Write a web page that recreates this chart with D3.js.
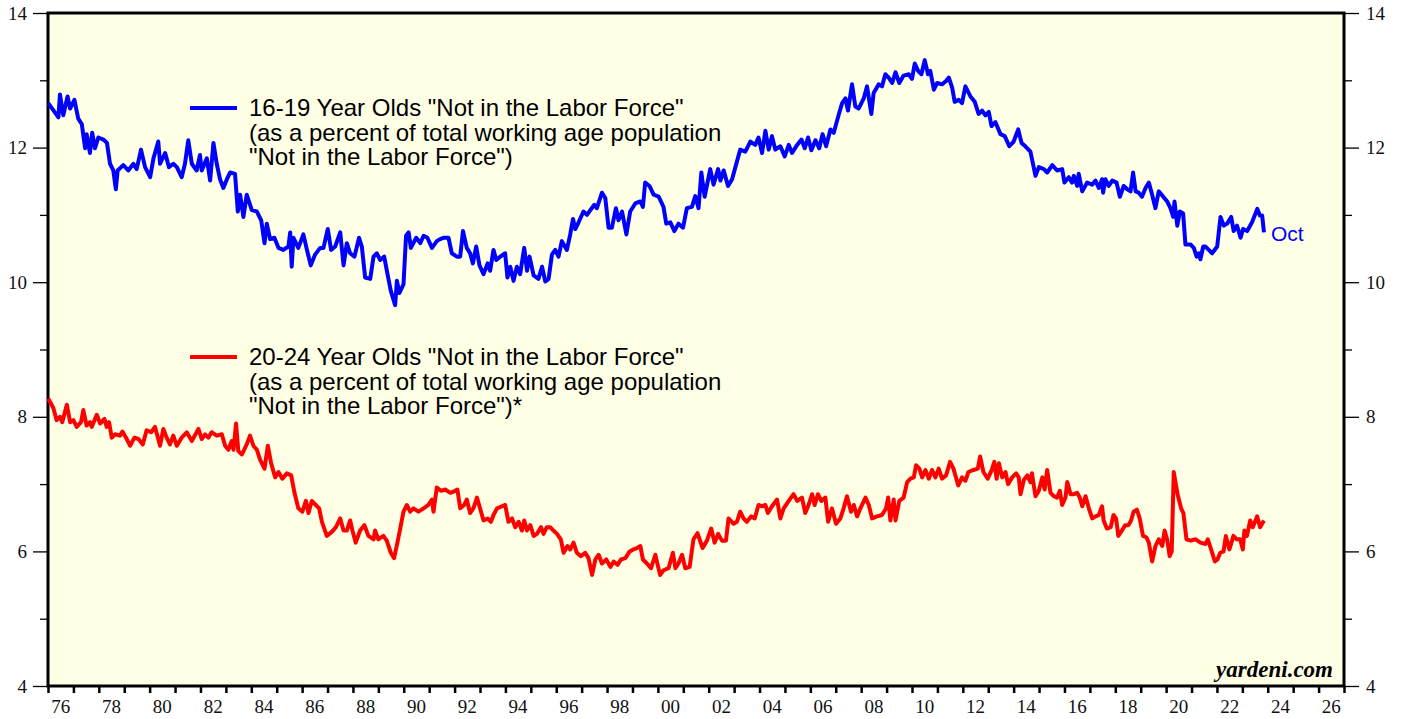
<!DOCTYPE html>
<html>
<head>
<meta charset="utf-8">
<script src="https://cdn.jsdelivr.net/npm/d3@7"></script>
<style>
  body { margin: 0; background: #fff; }
  svg { display: block; }
</style>
</head>
<body>
<div id="chart"></div>
<script>
// 16-19 year olds, [decimal year, percent]
const teens = [
  [1976.01,12.66],[1976.41,12.45],[1976.47,12.79],[1976.60,12.48],[1976.77,12.76],[1976.87,12.58],[1977.04,12.71],[1977.19,12.43],
  [1977.33,12.35],[1977.46,11.99],[1977.52,12.20],[1977.65,11.92],[1977.74,12.22],[1977.85,11.99],[1977.98,12.15],[1978.18,12.12],
  [1978.32,12.07],[1978.44,11.76],[1978.57,11.66],[1978.67,11.38],[1978.74,11.66],[1978.96,11.74],[1979.16,11.66],[1979.36,11.76],
  [1979.49,11.68],[1979.66,11.97],[1979.82,11.71],[1980.02,11.56],[1980.15,11.84],[1980.34,12.09],[1980.41,11.76],[1980.61,11.92],
  [1980.76,11.71],[1980.93,11.76],[1981.07,11.71],[1981.26,11.56],[1981.39,11.76],[1981.52,12.11],[1981.66,11.76],[1981.85,11.66],
  [1981.98,11.89],[1982.05,11.66],[1982.25,11.84],[1982.38,11.51],[1982.51,12.07],[1982.64,11.76],[1982.77,11.53],[1982.90,11.40],
  [1983.04,11.53],[1983.17,11.63],[1983.36,11.61],[1983.47,11.05],[1983.56,11.30],[1983.69,10.97],[1983.82,11.30],[1984.02,11.07],
  [1984.22,11.05],[1984.39,10.92],[1984.52,10.58],[1984.61,10.87],[1984.74,10.64],[1984.91,10.66],[1985.07,10.51],[1985.26,10.48],
  [1985.46,10.53],[1985.53,10.74],[1985.59,10.23],[1985.66,10.66],[1985.85,10.51],[1986.05,10.71],[1986.19,10.48],[1986.34,10.25],
  [1986.51,10.41],[1986.71,10.51],[1986.84,10.51],[1987.01,10.79],[1987.14,10.48],[1987.30,10.53],[1987.50,10.74],[1987.63,10.25],
  [1987.76,10.58],[1987.89,10.43],[1988.06,10.38],[1988.24,10.66],[1988.35,10.53],[1988.48,10.07],[1988.68,10.05],[1988.81,10.38],
  [1988.94,10.43],[1989.07,10.33],[1989.23,10.38],[1989.36,10.12],[1989.49,9.87],[1989.66,9.66],[1989.73,10.02],[1989.83,9.84],
  [1989.99,9.97],[1990.09,10.69],[1990.19,10.74],[1990.28,10.51],[1990.49,10.66],[1990.65,10.58],[1990.78,10.69],[1990.93,10.66],
  [1991.11,10.51],[1991.30,10.61],[1991.43,10.64],[1991.56,10.66],[1991.76,10.66],[1991.89,10.43],[1992.09,10.38],[1992.22,10.38],
  [1992.33,10.76],[1992.48,10.51],[1992.61,10.43],[1992.72,10.28],[1992.85,10.53],[1992.98,10.25],[1993.14,10.12],[1993.30,10.28],
  [1993.40,10.17],[1993.53,10.48],[1993.64,10.33],[1993.80,10.38],[1993.99,10.43],[1994.08,10.07],[1994.19,10.23],[1994.32,10.02],
  [1994.45,10.23],[1994.58,10.12],[1994.74,10.51],[1994.85,10.17],[1994.95,10.38],[1995.11,10.10],[1995.30,10.05],[1995.44,10.23],
  [1995.57,10.01],[1995.70,10.05],[1995.83,10.41],[1995.96,10.48],[1996.09,10.38],[1996.22,10.61],[1996.42,10.48],[1996.55,10.71],
  [1996.66,10.94],[1996.75,10.79],[1996.88,10.89],[1997.07,11.05],[1997.21,11.00],[1997.34,11.07],[1997.50,11.15],[1997.60,11.10],
  [1997.80,11.33],[1997.93,11.25],[1998.06,10.81],[1998.19,10.81],[1998.35,11.10],[1998.45,10.92],[1998.59,11.05],[1998.76,10.71],
  [1998.91,11.05],[1999.11,11.17],[1999.31,11.20],[1999.41,11.12],[1999.50,11.48],[1999.67,11.43],[1999.83,11.30],[2000.03,11.27],
  [2000.22,11.12],[2000.33,10.87],[2000.49,10.89],[2000.65,10.76],[2000.81,10.87],[2000.99,10.81],[2001.14,11.10],[2001.34,11.12],
  [2001.47,11.28],[2001.60,11.10],[2001.71,11.63],[2001.84,11.27],[2002.06,11.68],[2002.19,11.45],[2002.37,11.68],[2002.46,11.51],
  [2002.59,11.66],[2002.76,11.43],[2002.92,11.53],[2003.05,11.71],[2003.24,11.97],[2003.44,11.94],[2003.64,12.09],[2003.83,12.04],
  [2003.96,12.15],[2004.10,11.92],[2004.23,12.25],[2004.36,11.97],[2004.49,12.17],[2004.62,11.97],[2004.82,12.02],[2004.99,11.87],
  [2005.15,12.04],[2005.28,11.92],[2005.48,12.04],[2005.65,12.12],[2005.78,11.99],[2005.91,12.15],[2006.04,11.96],[2006.20,12.11],
  [2006.35,11.99],[2006.48,12.20],[2006.62,12.02],[2006.79,12.27],[2006.92,12.22],[2007.11,12.48],[2007.25,12.66],[2007.38,12.73],
  [2007.48,12.55],[2007.64,12.94],[2007.77,12.61],[2007.90,12.58],[2008.10,12.73],[2008.23,12.91],[2008.40,12.50],[2008.49,12.81],
  [2008.69,12.94],[2008.82,12.91],[2008.95,13.09],[2009.08,13.04],[2009.22,12.96],[2009.35,13.12],[2009.50,12.96],[2009.67,13.07],
  [2009.87,13.09],[2010.00,13.02],[2010.11,13.25],[2010.24,13.14],[2010.37,13.09],[2010.50,13.30],[2010.63,13.09],[2010.72,13.14],
  [2010.86,12.86],[2010.99,12.96],[2011.18,12.94],[2011.34,12.99],[2011.45,13.04],[2011.58,12.89],[2011.68,12.68],[2011.84,12.71],
  [2011.97,12.66],[2012.10,12.91],[2012.30,12.76],[2012.47,12.68],[2012.62,12.50],[2012.76,12.55],[2012.89,12.48],[2013.02,12.53],
  [2013.13,12.32],[2013.28,12.38],[2013.48,12.20],[2013.65,12.17],[2013.83,12.02],[2014.00,12.09],[2014.18,12.27],[2014.31,12.07],
  [2014.46,12.02],[2014.66,11.94],[2014.86,11.58],[2014.99,11.71],[2015.19,11.68],[2015.32,11.63],[2015.52,11.74],[2015.71,11.66],
  [2015.91,11.68],[2016.00,11.48],[2016.17,11.56],[2016.30,11.48],[2016.37,11.58],[2016.50,11.43],[2016.56,11.61],[2016.70,11.35],
  [2016.89,11.48],[2017.09,11.45],[2017.22,11.51],[2017.35,11.40],[2017.48,11.53],[2017.52,11.33],[2017.61,11.53],[2017.74,11.43],
  [2017.88,11.51],[2018.05,11.48],[2018.18,11.27],[2018.33,11.43],[2018.47,11.38],[2018.60,11.35],[2018.70,11.63],[2018.80,11.35],
  [2018.92,11.33],[2019.05,11.27],[2019.19,11.40],[2019.32,11.48],[2019.45,11.30],[2019.58,11.10],[2019.71,11.35],[2019.89,11.27],
  [2020.04,11.20],[2020.17,11.10],[2020.28,10.97],[2020.33,11.20],[2020.44,10.84],[2020.54,11.05],[2020.67,11.02],[2020.76,10.56],
  [2020.96,10.56],[2021.09,10.51],[2021.20,10.38],[2021.29,10.43],[2021.35,10.34],[2021.46,10.53],[2021.55,10.53],[2021.68,10.48],
  [2021.81,10.43],[2022.01,10.53],[2022.14,10.97],[2022.27,10.84],[2022.40,10.87],[2022.56,10.97],[2022.66,10.76],[2022.79,10.84],
  [2022.93,10.66],[2023.03,10.79],[2023.19,10.76],[2023.38,10.89],[2023.59,11.09],[2023.69,10.99],[2023.78,10.99],[2023.85,10.74]
];

// 20-24 year olds, [decimal year, percent]
const twenties = [
  [1976.01,8.27],[1976.21,8.13],[1976.34,7.95],[1976.47,8.00],[1976.56,7.92],[1976.74,8.18],[1976.87,7.92],[1977.00,7.95],
  [1977.13,7.85],[1977.30,7.92],[1977.39,8.10],[1977.52,7.87],[1977.65,7.92],[1977.72,7.85],[1977.92,8.03],[1978.05,7.90],
  [1978.22,7.97],[1978.31,7.85],[1978.40,7.92],[1978.51,7.69],[1978.64,7.74],[1978.83,7.72],[1978.93,7.78],[1979.10,7.67],
  [1979.23,7.57],[1979.40,7.69],[1979.56,7.67],[1979.73,7.59],[1979.88,7.80],[1980.06,7.77],[1980.21,7.85],[1980.41,7.57],
  [1980.54,7.82],[1980.67,7.69],[1980.80,7.59],[1980.93,7.72],[1981.07,7.57],[1981.26,7.69],[1981.46,7.77],[1981.66,7.64],
  [1981.92,7.82],[1982.05,7.67],[1982.18,7.74],[1982.31,7.69],[1982.44,7.77],[1982.64,7.72],[1982.84,7.74],[1982.97,7.57],
  [1983.10,7.51],[1983.23,7.64],[1983.30,7.51],[1983.40,7.90],[1983.49,7.49],[1983.63,7.44],[1983.82,7.59],[1983.95,7.72],
  [1984.08,7.57],[1984.22,7.51],[1984.35,7.36],[1984.52,7.23],[1984.65,7.57],[1984.78,7.31],[1984.94,7.10],[1985.07,7.18],
  [1985.22,7.08],[1985.40,7.16],[1985.57,7.13],[1985.70,6.87],[1985.85,6.64],[1986.01,6.59],[1986.15,6.75],[1986.25,6.57],
  [1986.38,6.75],[1986.54,6.69],[1986.67,6.64],[1986.78,6.44],[1986.97,6.23],[1987.17,6.29],[1987.33,6.36],[1987.50,6.49],
  [1987.63,6.31],[1987.76,6.31],[1987.89,6.46],[1987.98,6.31],[1988.11,6.13],[1988.28,6.31],[1988.45,6.39],[1988.61,6.23],
  [1988.81,6.18],[1988.87,6.31],[1989.00,6.18],[1989.20,6.23],[1989.33,6.16],[1989.49,5.98],[1989.62,5.90],[1989.75,6.13],
  [1989.86,6.34],[1989.99,6.59],[1990.12,6.69],[1990.25,6.59],[1990.38,6.64],[1990.58,6.59],[1990.78,6.64],[1990.97,6.69],
  [1991.11,6.77],[1991.17,6.59],[1991.30,6.95],[1991.46,6.90],[1991.63,6.92],[1991.83,6.87],[1992.02,6.90],[1992.11,6.92],
  [1992.22,6.64],[1992.38,6.69],[1992.48,6.77],[1992.61,6.57],[1992.74,6.64],[1992.88,6.80],[1993.04,6.59],[1993.14,6.46],
  [1993.30,6.49],[1993.43,6.44],[1993.53,6.54],[1993.67,6.64],[1993.86,6.67],[1993.99,6.69],[1994.12,6.44],[1994.26,6.49],
  [1994.39,6.36],[1994.52,6.44],[1994.65,6.31],[1994.74,6.46],[1994.85,6.31],[1994.98,6.39],[1995.11,6.23],[1995.24,6.26],
  [1995.40,6.36],[1995.50,6.26],[1995.63,6.36],[1995.76,6.36],[1995.89,6.31],[1996.03,6.26],[1996.18,6.18],[1996.29,5.98],
  [1996.44,6.08],[1996.55,6.03],[1996.68,6.13],[1996.81,5.98],[1996.97,5.93],[1997.14,5.98],[1997.27,5.90],[1997.41,5.65],
  [1997.54,5.88],[1997.67,5.95],[1997.80,5.82],[1997.97,5.88],[1998.13,5.77],[1998.26,5.85],[1998.41,5.80],[1998.55,5.88],
  [1998.72,5.90],[1998.89,6.00],[1999.04,6.03],[1999.18,6.05],[1999.31,6.08],[1999.41,5.88],[1999.57,5.82],[1999.73,5.75],
  [1999.90,5.95],[1999.99,5.80],[2000.09,5.65],[2000.22,5.72],[2000.42,5.75],[2000.59,5.98],[2000.69,5.75],[2000.81,5.82],
  [2000.95,5.95],[2001.08,5.75],[2001.25,5.77],[2001.40,6.18],[2001.56,6.27],[2001.76,6.05],[2001.93,6.16],[2002.10,6.34],
  [2002.23,6.13],[2002.37,6.26],[2002.52,6.16],[2002.68,6.16],[2002.78,6.49],[2002.98,6.41],[2003.11,6.44],[2003.24,6.59],
  [2003.37,6.49],[2003.50,6.44],[2003.67,6.52],[2003.81,6.49],[2003.96,6.69],[2004.10,6.67],[2004.23,6.69],[2004.33,6.57],
  [2004.49,6.67],[2004.69,6.77],[2004.82,6.49],[2004.95,6.64],[2005.15,6.75],[2005.34,6.85],[2005.48,6.75],[2005.67,6.80],
  [2005.80,6.57],[2005.93,6.69],[2006.07,6.85],[2006.17,6.69],[2006.30,6.85],[2006.43,6.75],[2006.59,6.80],[2006.70,6.44],
  [2006.85,6.64],[2007.01,6.41],[2007.18,6.49],[2007.31,6.64],[2007.44,6.82],[2007.60,6.59],[2007.71,6.69],[2007.84,6.52],
  [2007.97,6.64],[2008.17,6.80],[2008.30,6.69],[2008.43,6.49],[2008.62,6.52],[2008.82,6.54],[2008.98,6.64],[2009.06,6.80],
  [2009.15,6.46],[2009.28,6.77],[2009.35,6.46],[2009.50,6.75],[2009.67,6.80],[2009.81,7.03],[2009.94,7.08],[2010.07,7.10],
  [2010.16,7.28],[2010.29,7.23],[2010.40,7.10],[2010.53,7.21],[2010.66,7.08],[2010.79,7.21],[2010.92,7.10],[2011.05,7.23],
  [2011.18,7.08],[2011.34,7.13],[2011.50,7.33],[2011.63,7.23],[2011.82,6.98],[2011.97,7.10],[2012.10,7.05],[2012.22,7.18],
  [2012.42,7.21],[2012.59,7.23],[2012.68,7.41],[2012.81,7.18],[2012.98,7.08],[2013.14,7.21],[2013.24,7.33],[2013.33,7.08],
  [2013.42,7.31],[2013.55,7.10],[2013.68,7.18],[2013.78,7.00],[2013.94,7.10],[2014.10,7.16],[2014.20,7.10],[2014.27,6.85],
  [2014.40,7.06],[2014.54,7.13],[2014.66,7.03],[2014.72,7.16],[2014.86,6.82],[2014.99,6.90],[2015.13,7.10],[2015.22,6.92],
  [2015.32,7.21],[2015.45,6.87],[2015.58,6.82],[2015.71,6.80],[2015.82,6.90],[2015.91,6.69],[2016.04,6.80],[2016.11,7.03],
  [2016.24,6.85],[2016.37,6.85],[2016.50,6.87],[2016.60,6.80],[2016.70,6.67],[2016.83,6.82],[2016.96,6.64],[2017.09,6.49],
  [2017.22,6.52],[2017.35,6.54],[2017.48,6.67],[2017.54,6.46],[2017.67,6.34],[2017.82,6.36],[2017.93,6.54],[2018.03,6.49],
  [2018.12,6.23],[2018.26,6.31],[2018.39,6.39],[2018.52,6.39],[2018.62,6.46],[2018.72,6.59],[2018.85,6.62],[2018.96,6.49],
  [2019.09,6.23],[2019.22,6.21],[2019.32,6.13],[2019.45,5.85],[2019.58,6.08],[2019.71,6.18],[2019.85,6.08],[2019.94,6.31],
  [2020.04,6.18],[2020.14,5.93],[2020.22,6.00],[2020.30,7.18],[2020.45,6.85],[2020.59,6.64],[2020.68,6.57],[2020.80,6.18],
  [2020.97,6.16],[2021.15,6.18],[2021.35,6.13],[2021.55,6.11],[2021.64,6.18],[2021.77,6.03],[2021.92,5.85],[2022.02,5.88],
  [2022.13,5.98],[2022.26,6.00],[2022.35,6.23],[2022.49,6.03],[2022.65,6.23],[2022.78,6.18],[2022.91,6.18],[2023.02,6.03],
  [2023.08,6.31],[2023.18,6.23],[2023.31,6.46],[2023.41,6.36],[2023.58,6.52],[2023.70,6.36],[2023.85,6.46]
];

const yMajor = [4, 6, 8, 10, 12, 14];
const yMinor = [5, 7, 9, 11, 13];
const yearTicks = d3.range(1976, 2028);
const labelYears = d3.range(1976, 2027, 2);

const teenLegend = ['16-19 Year Olds "Not in the Labor Force"',
  '(as a percent of total working age population',
  '"Not in the Labor Force")'];
const twentyLegend = ['20-24 Year Olds "Not in the Labor Force"',
  '(as a percent of total working age population',
  '"Not in the Labor Force")*'];

// Set the dimensions of the graph
const W = 1403, H = 719;
const plot = { left: 48, right: 1344, top: 13, bottom: 686 };

const svg = d3.select("#chart")
  .append("svg")
  .attr("width", W)
  .attr("height", H);

const x = d3.scaleLinear().domain([1976, 2027]).range([plot.left, plot.right]);
const y = d3.scaleLinear().domain([4, 14]).range([plot.bottom, plot.top]);

// plot background
svg.append("rect")
  .attr("x", plot.left).attr("y", plot.top)
  .attr("width", plot.right - plot.left)
  .attr("height", plot.bottom - plot.top)
  .attr("fill", "#ffffe6");

const serif = "'Liberation Serif', 'Times New Roman', serif";
const sans = "'Liberation Sans', Arial, sans-serif";

function styleAxis(g) {
  g.select(".domain").remove();
  g.selectAll(".tick line").attr("stroke", "#000").attr("stroke-width", 1.3);
  g.selectAll(".tick text")
    .attr("fill", "#111")
    .style("font-family", serif)
    .style("font-size", "19px");
}

// left axis
svg.append("g")
  .attr("transform", `translate(${plot.left},0)`)
  .call(d3.axisLeft(y).tickValues(yMajor).tickSize(15).tickPadding(6))
  .call(styleAxis);
svg.append("g")
  .attr("transform", `translate(${plot.left},0)`)
  .call(d3.axisLeft(y).tickValues(yMinor).tickSize(8).tickFormat(""))
  .call(styleAxis);

// right axis
svg.append("g")
  .attr("transform", `translate(${plot.right},0)`)
  .call(d3.axisRight(y).tickValues(yMajor).tickSize(15).tickPadding(7))
  .call(styleAxis);
svg.append("g")
  .attr("transform", `translate(${plot.right},0)`)
  .call(d3.axisRight(y).tickValues(yMinor).tickSize(8).tickFormat(""))
  .call(styleAxis);

// bottom axis: a tick every year, labels centred in even years
const xAxis = svg.append("g")
  .attr("transform", `translate(0,${plot.bottom})`)
  .call(d3.axisBottom(x).tickValues(yearTicks).tickSize(7).tickFormat(""))
  .call(styleAxis);
xAxis.selectAll(".tick line").attr("stroke-width", 2.5);

svg.append("g")
  .selectAll("text")
  .data(labelYears)
  .enter()
  .append("text")
  .attr("x", d => x(d + 0.5))
  .attr("y", 713)
  .attr("text-anchor", "middle")
  .attr("fill", "#111")
  .style("font-family", serif)
  .style("font-size", "19px")
  .text(d => String(d % 100).padStart(2, "0"));

// frame
svg.append("rect")
  .attr("x", plot.left).attr("y", plot.top)
  .attr("width", plot.right - plot.left)
  .attr("height", plot.bottom - plot.top)
  .attr("fill", "none")
  .attr("stroke", "#000")
  .attr("stroke-width", 3);

// series lines
const line = d3.line()
  .x(d => x(d[0]))
  .y(d => y(d[1]));

svg.append("path")
  .datum(twenties)
  .attr("fill", "none")
  .attr("stroke", "#ff0000")
  .attr("stroke-width", 4)
  .attr("stroke-linejoin", "round")
  .attr("d", line);

svg.append("path")
  .datum(teens)
  .attr("fill", "none")
  .attr("stroke", "#0000ff")
  .attr("stroke-width", 4)
  .attr("stroke-linejoin", "round")
  .attr("d", line);

// legends
function legend(lines, color, ly) {
  const g = svg.append("g");
  g.append("line")
    .attr("x1", 190).attr("x2", 237)
    .attr("y1", ly).attr("y2", ly)
    .attr("stroke", color)
    .attr("stroke-width", 4);
  g.selectAll("text")
    .data(lines)
    .enter()
    .append("text")
    .attr("x", 249)
    .attr("y", (d, i) => ly + 8 + i * 24.5)
    .attr("fill", "#000")
    .style("font-family", sans)
    .style("font-size", "24px")
    .text(d => d);
}
legend(teenLegend, "#0000ff", 108);
legend(twentyLegend, "#ff0000", 357);

// last-month label
const last = teens[teens.length - 1];
svg.append("text")
  .attr("x", x(last[0]) + 7)
  .attr("y", y(last[1]) + 9)
  .attr("fill", "#0000ff")
  .style("font-family", sans)
  .style("font-size", "21px")
  .text("Oct");

// source
svg.append("text")
  .attr("x", 1333)
  .attr("y", 677)
  .attr("text-anchor", "end")
  .attr("fill", "#000")
  .style("font-family", serif)
  .style("font-size", "23px")
  .style("font-weight", "bold")
  .style("font-style", "italic")
  .text("yardeni.com");
</script>
</body>
</html>
